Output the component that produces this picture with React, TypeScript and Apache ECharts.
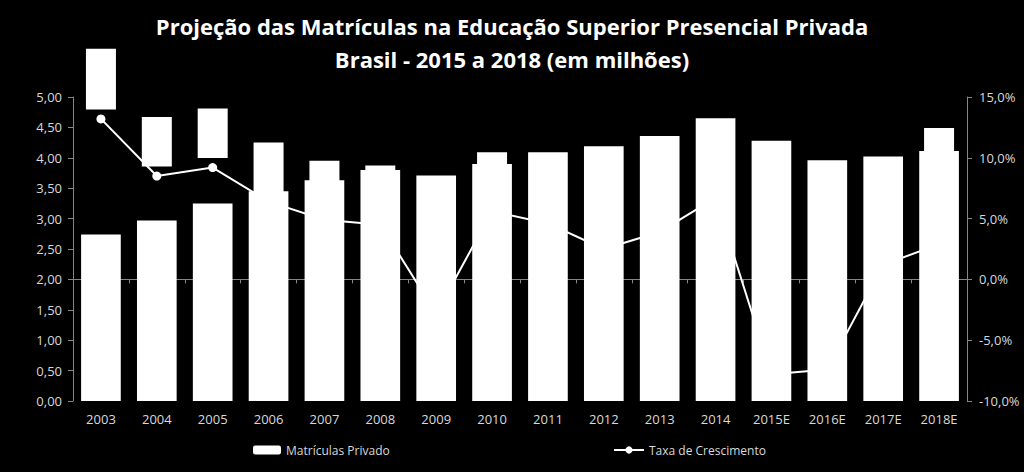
import React, { useEffect, useRef } from "react";
import * as echarts from "echarts";

const categories = ["2003", "2004", "2005", "2006", "2007", "2008", "2009", "2010", "2011", "2012", "2013", "2014", "2015E", "2016E", "2017E", "2018E"];
const matriculasPrivado = [2.74, 2.97, 3.25, 3.45, 3.63, 3.8, 3.71, 3.9, 4.09, 4.19, 4.36, 4.65, 4.28, 3.96, 4.02, 4.11];
const taxaCrescimento = [13.2, 8.5, 9.2, 6.4, 4.9, 4.5, -2.8, 5.6, 4.6, 2.5, 3.9, 6.7, -7.8, -7.4, 1.2, 2.9];
const leftTicks = { min: 0, max: 5, interval: 0.5 };
const rightTicks = { min: -10, max: 15, interval: 5 };
const titleLines = ["Projeção das Matrículas na Educação Superior Presencial Privada", "Brasil - 2015 a 2018 (em milhões)"];
const seriesNames = ["Matrículas Privado", "Taxa de Crescimento"];

const FONT = "'Open Sans', 'Liberation Sans', sans-serif";
const LABEL_COLOR = "#d9d9d9";
const AXIS_COLOR = "#868686";

export default function App() {
  const ref = useRef<HTMLDivElement>(null);
  useEffect(() => {
    if (!ref.current) return;
    const chart = echarts.init(ref.current, undefined, { renderer: "svg" });
    const lineData = taxaCrescimento.map((v, i) =>
      categories[i] === "2018E" ? { value: v, label: { distance: 62 } } : v
    );
    chart.setOption({
      animation: false,
      backgroundColor: "#000",
      title: {
        text: titleLines.join("\n"),
        left: "center",
        top: 4,
        textStyle: { color: "#fff", fontFamily: FONT, fontWeight: "bold", fontSize: 22, lineHeight: 33 },
      },
      legend: [
        {
          data: [seriesNames[0]],
          left: 248,
          top: 439,
          itemWidth: 28,
          itemHeight: 9,
          textStyle: { color: LABEL_COLOR, fontFamily: FONT, fontSize: 12 },
        },
        {
          data: [seriesNames[1]],
          left: 608,
          top: 439,
          itemWidth: 30,
          itemHeight: 9,
          textStyle: { color: LABEL_COLOR, fontFamily: FONT, fontSize: 12 },
        },
      ],
      grid: { left: 73, right: 57, top: 97, bottom: 71, containLabel: false },
      xAxis: [
        {
          type: "category",
          data: categories,
          position: "bottom",
          axisLine: { show: false },
          axisTick: { show: false },
          axisLabel: { color: LABEL_COLOR, fontFamily: FONT, fontSize: 13, margin: 11, interval: 0 },
        },
        {
          type: "category",
          data: categories,
          position: "bottom",
          axisLine: { show: true, onZero: true, onZeroAxisIndex: 1, lineStyle: { color: AXIS_COLOR, width: 1 } },
          axisTick: { show: true, length: 4, lineStyle: { color: AXIS_COLOR } },
          axisLabel: { show: false },
          splitLine: { show: false },
        },
      ],
      yAxis: [
        {
          type: "value",
          min: leftTicks.min,
          max: leftTicks.max,
          interval: leftTicks.interval,
          axisLine: { show: true, lineStyle: { color: AXIS_COLOR } },
          axisTick: { show: true, length: 5, lineStyle: { color: AXIS_COLOR } },
          splitLine: { show: false },
          axisLabel: {
            color: LABEL_COLOR,
            fontFamily: FONT,
            fontSize: 13,
            margin: 11,
            formatter: (v: number) => v.toFixed(2).replace(".", ","),
          },
        },
        {
          type: "value",
          min: rightTicks.min,
          max: rightTicks.max,
          interval: rightTicks.interval,
          position: "right",
          axisLine: { show: true, lineStyle: { color: AXIS_COLOR } },
          axisTick: { show: true, length: 5, lineStyle: { color: AXIS_COLOR } },
          splitLine: { show: false },
          axisLabel: {
            color: LABEL_COLOR,
            fontFamily: FONT,
            fontSize: 13,
            margin: 12,
            formatter: (v: number) => v.toFixed(1).replace(".", ",") + "%",
          },
        },
      ],
      series: [
        {
          name: seriesNames[1],
          type: "line",
          xAxisIndex: 0,
          yAxisIndex: 1,
          data: lineData,
          z: 2,
          symbol: "circle",
          symbolSize: 9,
          lineStyle: { color: "#fff", width: 2 },
          itemStyle: { color: "#fff" },
          label: {
            show: true,
            position: "top",
            distance: 5,
            rotate: 90,
            align: "left",
            verticalAlign: "middle",
            color: "#fff",
            backgroundColor: "#fff",
            padding: [3, 2, 3, 2],
            fontFamily: "'Liberation Sans', sans-serif",
            fontSize: 20,
            lineHeight: 24,
            formatter: (p: any) => Number(p.value).toFixed(1).replace(".", ",") + "%",
          },
        },
        {
          name: seriesNames[0],
          type: "bar",
          xAxisIndex: 0,
          yAxisIndex: 0,
          data: matriculasPrivado,
          z: 3,
          barCategoryGap: "29%",
          itemStyle: { color: "#fff" },
        },
      ],
    });
    return () => chart.dispose();
  }, []);
  return <div ref={ref} style={{ position: "fixed", left: 0, top: 0, width: 1024, height: 472 }} />;
}
